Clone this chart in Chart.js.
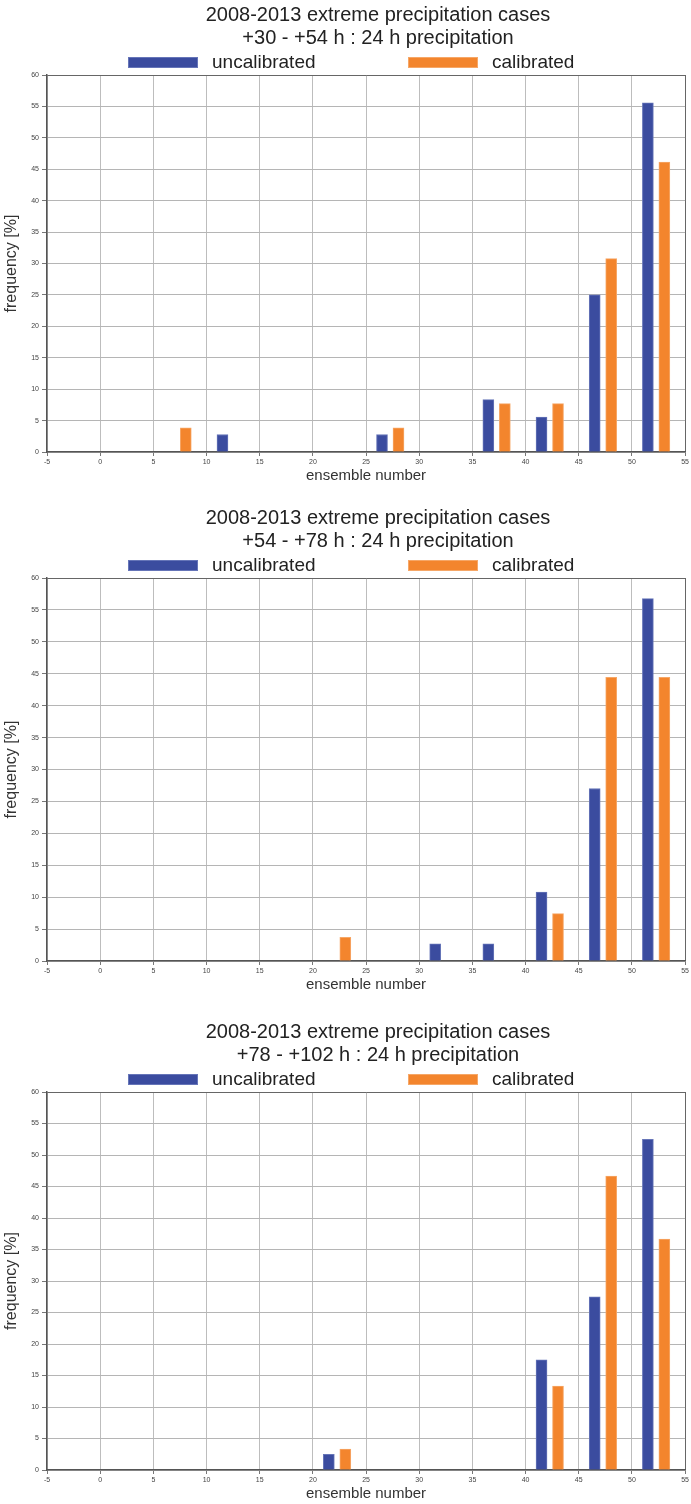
<!DOCTYPE html>
<html>
<head>
<meta charset="utf-8">
<script src="https://cdn.jsdelivr.net/npm/chart.js@4/dist/chart.umd.min.js"></script>
<style>
  html, body { margin: 0; padding: 0; background: #fff; overflow: hidden; width: 691px; height: 1504px; }
  .panel { position: absolute; left: 0; width: 691px; }
  canvas { display: block; }
</style>
</head>
<body>
<div class="panel" id="p1" style="top:0px"><canvas id="c1" width="691" height="490"></canvas></div>
<div class="panel" id="p2" style="top:503px"><canvas id="c2" width="691" height="496"></canvas></div>
<div class="panel" id="p3" style="top:1017px"><canvas id="c3" width="691" height="491"></canvas></div>
<script>
// ---- data ----
const mainTitle = "2008-2013 extreme precipitation cases";
const subTitles = ["+30 - +54 h : 24 h precipitation", "+54 - +78 h : 24 h precipitation", "+78 - +102 h : 24 h precipitation"];
const seriesLabels = ["uncalibrated", "calibrated"];
const bins = [0, 5, 10, 15, 20, 25, 30, 35, 40, 45, 50];            // ensemble-number bin starts
const xTickMin = -5, xTickMax = 55, xTickStep = 5;
const yTickMin = 0, yTickMax = 60, yTickStep = 5;
const xTitle = "ensemble number";
const yTitle = "frequency [%]";

// frequencies [%] per bin
const uncal1 = [0, 0, 2.78, 0, 0, 2.78, 0, 8.33, 5.56, 25.00, 55.56];
const cal1   = [0, 3.85, 0, 0, 0, 3.85, 0, 7.69, 7.69, 30.77, 46.15];
const uncal2 = [0, 0, 0, 0, 0, 0, 2.70, 2.70, 10.81, 27.03, 56.76];
const cal2   = [0, 0, 0, 0, 3.70, 0, 0, 0, 7.41, 44.44, 44.44];
const uncal3 = [0, 0, 0, 0, 2.50, 0, 0, 0, 17.50, 27.50, 52.50];
const cal3   = [0, 0, 0, 0, 3.33, 0, 0, 0, 13.33, 46.67, 36.67];

// ---- style ----
const BLUE = "#3b4c9f", BLUE_EDGE = "#6675b8";
const ORANGE = "#f3852d", ORANGE_EDGE = "#f6a767";
const offsetUncal = 1.5, offsetCal = 3.05;   // bar placement inside a 5-wide bin
const FONT = "'Liberation Sans', Arial, Helvetica, sans-serif";

const headerPlugin = {
  id: "header",
  afterDraw(chart, args, opts) {
    const ctx = chart.ctx;
    const top = chart.chartArea.top;
    ctx.save();
    ctx.fillStyle = "#222";
    ctx.textAlign = "center";
    ctx.textBaseline = "middle";
    ctx.font = "20px " + FONT;
    ctx.fillText(opts.title, 378, top - 60);
    ctx.fillText(opts.subtitle, 378, top - 37);
    // legend
    ctx.font = "19px " + FONT;
    ctx.textAlign = "left";
    const ly = top - 13;
    const items = [{x: 128, tx: 212}, {x: 408, tx: 492}];
    chart.data.datasets.forEach((ds, i) => {
      const it = items[i];
      ctx.fillStyle = ds.backgroundColor;
      ctx.fillRect(it.x, ly - 5, 70, 11);
      ctx.strokeStyle = ds.borderColor;
      ctx.lineWidth = 1;
      ctx.strokeRect(it.x + 0.5, ly - 4.5, 69, 10);
      ctx.fillStyle = "#222";
      ctx.fillText(ds.label, it.tx, ly + 1);
    });
    ctx.restore();
  }
};

function toPoints(values, offset) {
  return bins.map((b, i) => ({x: b + offset, y: values[i] === 0 ? null : values[i]}));
}

function makeChart(id, subtitle, uncal, cal) {
  return new Chart(document.getElementById(id), {
    type: "bar",
    data: {
      datasets: [
        { label: seriesLabels[0], data: toPoints(uncal, offsetUncal), backgroundColor: BLUE, borderColor: BLUE_EDGE, borderWidth: 1, barThickness: 11 },
        { label: seriesLabels[1], data: toPoints(cal, offsetCal), backgroundColor: ORANGE, borderColor: ORANGE_EDGE, borderWidth: 1, barThickness: 11 }
      ]
    },
    options: {
      responsive: false,
      animation: false,
      devicePixelRatio: 1,
      layout: { padding: { top: 75, right: 4, left: 0, bottom: 0 } },
      datasets: { bar: { grouped: false, skipNull: true } },
      plugins: {
        legend: { display: false },
        title: { display: false },
        tooltip: { enabled: false },
        header: { title: mainTitle, subtitle: subtitle }
      },
      scales: {
        x: {
          type: "linear",
          min: xTickMin, max: xTickMax,
          offset: false,
          afterFit: s => { s.height = 38; },
          ticks: { stepSize: xTickStep, font: { size: 7, family: FONT }, color: "#444", padding: 2, maxRotation: 0 },
          grid: {
            offset: false,
            color: c => (c.tick && c.tick.value === xTickMax) ? "#666" : "#bdbdbd",
            tickColor: "#777",
            tickLength: 4,
            lineWidth: 1
          },
          border: { color: "#555", width: 1.5 },
          title: { display: true, text: xTitle, font: { size: 15, family: FONT }, color: "#333", padding: { top: 0, bottom: 5 } }
        },
        y: {
          min: yTickMin, max: yTickMax,
          afterFit: s => { s.width = 47; },
          ticks: { stepSize: yTickStep, font: { size: 7, family: FONT }, color: "#444", padding: 3 },
          grid: {
            color: c => (c.tick && c.tick.value === yTickMax) ? "#666" : "#b5b5b5",
            tickColor: "#777",
            tickLength: 5,
            lineWidth: 1
          },
          border: { color: "#555", width: 1.5 },
          title: { display: true, text: yTitle, font: { size: 16, family: FONT }, color: "#333", padding: { top: 2, bottom: 0 } }
        }
      }
    },
    plugins: [headerPlugin]
  });
}

makeChart("c1", subTitles[0], uncal1, cal1);
makeChart("c2", subTitles[1], uncal2, cal2);
makeChart("c3", subTitles[2], uncal3, cal3);
</script>
</body>
</html>
